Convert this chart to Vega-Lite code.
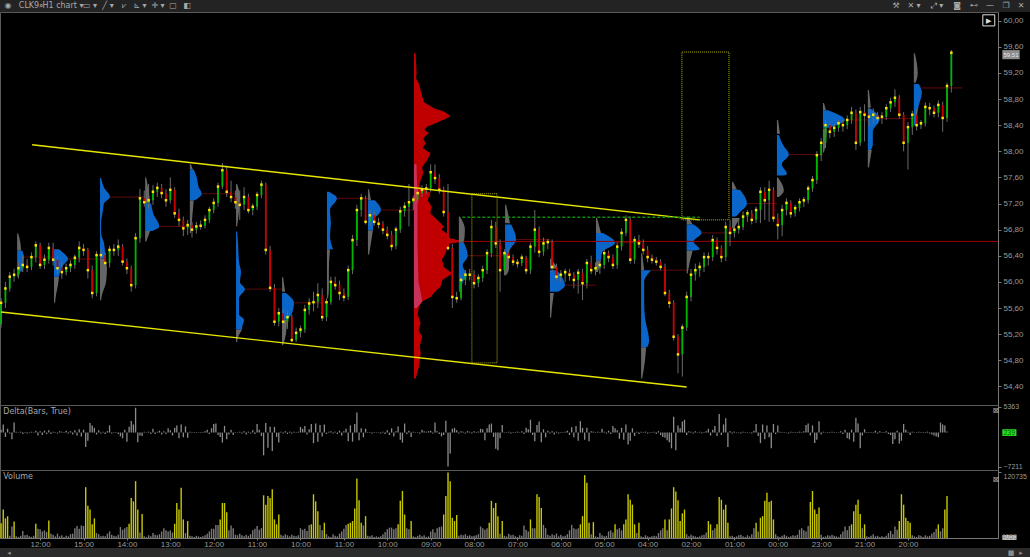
{"$schema":"https://vega.github.io/schema/vega-lite/v6.json","background":"#000","padding":{"left":-3,"top":0,"right":0,"bottom":0},"bounds":"flush","spacing":0,"config":{"font":"Liberation Sans","view":{"stroke":"#5a5a5a","fill":"#000"},"axis":{"domainColor":"#777","tickColor":"#777","labelColor":"#9a9a9a","labelFont":"Liberation Sans","labelFontSize":8,"tickSize":3,"labelPadding":2,"grid":false}},
"datasets":{
"candles":[{"x":0,"o":55.35,"h":55.75,"l":55.3,"c":55.68},{"x":2,"o":55.68,"h":56,"l":55.6,"c":55.9},{"x":4,"o":55.9,"h":56.15,"l":55.85,"c":56.08},{"x":6,"o":56.08,"h":56.2,"l":56,"c":56.11},{"x":8,"o":56.11,"h":56.3,"l":56.05,"c":56.21},{"x":10,"o":56.21,"h":56.4,"l":56.15,"c":56.26},{"x":12,"o":56.26,"h":56.35,"l":56.15,"c":56.23},{"x":14,"o":56.23,"h":56.45,"l":56.18,"c":56.38},{"x":16,"o":56.38,"h":56.62,"l":56.3,"c":56.56},{"x":18,"o":56.56,"h":56.6,"l":56.2,"c":56.26},{"x":20,"o":56.26,"h":56.42,"l":56.2,"c":56.34},{"x":22,"o":56.34,"h":56.6,"l":56.28,"c":56.52},{"x":24,"o":56.52,"h":56.6,"l":56.25,"c":56.34},{"x":26,"o":56.34,"h":56.4,"l":56.12,"c":56.21},{"x":28,"o":56.21,"h":56.3,"l":56.05,"c":56.15},{"x":30,"o":56.15,"h":56.28,"l":56.1,"c":56.21},{"x":32,"o":56.21,"h":56.33,"l":56.15,"c":56.26},{"x":34,"o":56.26,"h":56.42,"l":56.2,"c":56.37},{"x":36,"o":56.37,"h":56.62,"l":56.3,"c":56.52},{"x":38,"o":56.52,"h":56.58,"l":56.4,"c":56.49},{"x":40,"o":56.49,"h":56.52,"l":56.05,"c":56.18},{"x":42,"o":56.18,"h":56.25,"l":55.75,"c":55.83},{"x":44,"o":55.83,"h":56.47,"l":55.78,"c":56.41},{"x":46,"o":56.41,"h":56.5,"l":56.3,"c":56.41},{"x":48,"o":56.41,"h":56.45,"l":56.2,"c":56.29},{"x":50,"o":56.29,"h":56.55,"l":56.22,"c":56.49},{"x":52,"o":56.49,"h":56.58,"l":56.4,"c":56.49},{"x":54,"o":56.49,"h":56.65,"l":56.4,"c":56.54},{"x":56,"o":56.54,"h":56.58,"l":56.25,"c":56.31},{"x":58,"o":56.31,"h":56.36,"l":56.12,"c":56.21},{"x":60,"o":56.21,"h":56.25,"l":55.85,"c":55.95},{"x":62,"o":55.95,"h":56.75,"l":55.9,"c":56.67},{"x":64,"o":56.67,"h":57.42,"l":56.6,"c":57.28},{"x":66,"o":57.28,"h":57.4,"l":57.15,"c":57.22},{"x":68,"o":57.22,"h":57.5,"l":57.12,"c":57.25},{"x":70,"o":57.25,"h":57.48,"l":57.18,"c":57.38},{"x":72,"o":57.38,"h":57.52,"l":57.3,"c":57.44},{"x":74,"o":57.44,"h":57.5,"l":57.28,"c":57.36},{"x":76,"o":57.36,"h":57.42,"l":57.15,"c":57.25},{"x":78,"o":57.25,"h":57.6,"l":57.2,"c":57.41},{"x":80,"o":57.41,"h":57.45,"l":56.98,"c":57.05},{"x":82,"o":57.05,"h":57.12,"l":56.85,"c":56.95},{"x":84,"o":56.95,"h":57,"l":56.7,"c":56.82},{"x":86,"o":56.82,"h":56.95,"l":56.72,"c":56.87},{"x":88,"o":56.87,"h":56.92,"l":56.68,"c":56.8},{"x":90,"o":56.8,"h":56.92,"l":56.74,"c":56.85},{"x":92,"o":56.85,"h":56.94,"l":56.8,"c":56.86},{"x":94,"o":56.86,"h":57.02,"l":56.82,"c":56.95},{"x":96,"o":56.95,"h":57.15,"l":56.9,"c":57.1},{"x":98,"o":57.1,"h":57.28,"l":57.05,"c":57.21},{"x":100,"o":57.21,"h":57.52,"l":57.15,"c":57.46},{"x":102,"o":57.46,"h":57.82,"l":57.42,"c":57.71},{"x":104,"o":57.71,"h":57.78,"l":57.3,"c":57.38},{"x":106,"o":57.38,"h":57.55,"l":57.22,"c":57.3},{"x":108,"o":57.3,"h":57.4,"l":57.12,"c":57.22},{"x":110,"o":57.22,"h":57.4,"l":56.95,"c":57.18},{"x":112,"o":57.18,"h":57.45,"l":57.1,"c":57.3},{"x":114,"o":57.3,"h":57.35,"l":57.05,"c":57.1},{"x":116,"o":57.1,"h":57.2,"l":57.02,"c":57.15},{"x":118,"o":57.15,"h":57.38,"l":57.1,"c":57.33},{"x":120,"o":57.33,"h":57.55,"l":57.28,"c":57.49},{"x":122,"o":57.49,"h":57.52,"l":56.42,"c":56.49},{"x":124,"o":56.49,"h":56.55,"l":55.85,"c":55.91},{"x":126,"o":55.91,"h":55.97,"l":55.33,"c":55.39},{"x":128,"o":55.39,"h":55.6,"l":55.32,"c":55.52},{"x":130,"o":55.52,"h":55.58,"l":55.12,"c":55.39},{"x":132,"o":55.39,"h":55.55,"l":55.28,"c":55.46},{"x":134,"o":55.46,"h":55.5,"l":55.08,"c":55.11},{"x":136,"o":55.11,"h":55.3,"l":55.08,"c":55.22},{"x":138,"o":55.22,"h":55.33,"l":55.15,"c":55.27},{"x":140,"o":55.27,"h":55.65,"l":55.22,"c":55.57},{"x":142,"o":55.57,"h":55.75,"l":55.5,"c":55.67},{"x":144,"o":55.67,"h":55.85,"l":55.55,"c":55.69},{"x":146,"o":55.69,"h":55.98,"l":55.6,"c":55.8},{"x":148,"o":55.8,"h":55.9,"l":55.4,"c":55.46},{"x":150,"o":55.46,"h":55.75,"l":55.4,"c":55.69},{"x":152,"o":55.69,"h":56.08,"l":55.65,"c":56},{"x":154,"o":56,"h":56.08,"l":55.88,"c":55.95},{"x":156,"o":55.95,"h":56.02,"l":55.72,"c":55.83},{"x":158,"o":55.83,"h":55.9,"l":55.7,"c":55.77},{"x":160,"o":55.77,"h":56.25,"l":55.72,"c":56.18},{"x":162,"o":56.18,"h":56.72,"l":56.12,"c":56.64},{"x":164,"o":56.64,"h":57.18,"l":56.55,"c":57.1},{"x":166,"o":57.1,"h":57.35,"l":57,"c":57.28},{"x":168,"o":57.28,"h":57.32,"l":56.88,"c":56.92},{"x":170,"o":56.92,"h":57.1,"l":56.85,"c":57.02},{"x":172,"o":57.02,"h":57.08,"l":56.86,"c":56.92},{"x":174,"o":56.92,"h":56.98,"l":56.82,"c":56.89},{"x":176,"o":56.89,"h":56.93,"l":56.73,"c":56.8},{"x":178,"o":56.8,"h":56.85,"l":56.65,"c":56.72},{"x":180,"o":56.72,"h":56.78,"l":56.48,"c":56.55},{"x":182,"o":56.55,"h":56.85,"l":56.5,"c":56.8},{"x":184,"o":56.8,"h":57.15,"l":56.75,"c":57.08},{"x":186,"o":57.08,"h":57.22,"l":57,"c":57.15},{"x":188,"o":57.15,"h":57.5,"l":56.85,"c":57.22},{"x":190,"o":57.22,"h":57.32,"l":57.1,"c":57.26},{"x":192,"o":57.26,"h":57.42,"l":57.22,"c":57.36},{"x":194,"o":57.36,"h":57.48,"l":57.3,"c":57.41},{"x":196,"o":57.41,"h":57.5,"l":57.35,"c":57.43},{"x":198,"o":57.43,"h":57.8,"l":57.38,"c":57.68},{"x":200,"o":57.68,"h":57.8,"l":57.5,"c":57.59},{"x":202,"o":57.59,"h":57.65,"l":57.35,"c":57.41},{"x":204,"o":57.41,"h":57.46,"l":57,"c":57.07},{"x":206,"o":57.07,"h":57.5,"l":56.48,"c":56.52},{"x":208,"o":56.52,"h":56.58,"l":55.6,"c":55.77},{"x":210,"o":55.77,"h":55.85,"l":55.68,"c":55.75},{"x":212,"o":55.75,"h":56.1,"l":55.72,"c":56.03},{"x":214,"o":56.03,"h":56.18,"l":55.95,"c":56.11},{"x":216,"o":56.11,"h":56.2,"l":56.02,"c":56.11},{"x":218,"o":56.11,"h":56.18,"l":55.9,"c":55.98},{"x":220,"o":55.98,"h":56.12,"l":55.92,"c":56.06},{"x":222,"o":56.06,"h":56.25,"l":56,"c":56.18},{"x":224,"o":56.18,"h":56.5,"l":56.12,"c":56.44},{"x":226,"o":56.44,"h":56.95,"l":56.38,"c":56.84},{"x":228,"o":56.84,"h":56.92,"l":56.52,"c":56.59},{"x":230,"o":56.59,"h":56.65,"l":55.85,"c":56.18},{"x":232,"o":56.18,"h":56.5,"l":56.1,"c":56.44},{"x":234,"o":56.44,"h":56.5,"l":56.3,"c":56.38},{"x":236,"o":56.38,"h":56.42,"l":56.25,"c":56.31},{"x":238,"o":56.31,"h":56.35,"l":56.22,"c":56.29},{"x":240,"o":56.29,"h":56.42,"l":56.24,"c":56.37},{"x":242,"o":56.37,"h":56.4,"l":56.12,"c":56.18},{"x":244,"o":56.18,"h":56.6,"l":56.12,"c":56.54},{"x":246,"o":56.54,"h":57.1,"l":56.45,"c":56.8},{"x":248,"o":56.8,"h":56.85,"l":56.38,"c":56.46},{"x":250,"o":56.46,"h":56.68,"l":56.4,"c":56.59},{"x":252,"o":56.59,"h":56.66,"l":56.5,"c":56.61},{"x":254,"o":56.61,"h":56.65,"l":56.15,"c":56.23},{"x":256,"o":56.23,"h":56.28,"l":56.02,"c":56.08},{"x":258,"o":56.08,"h":56.18,"l":56,"c":56.11},{"x":260,"o":56.11,"h":56.2,"l":56,"c":56.15},{"x":262,"o":56.15,"h":56.2,"l":56.02,"c":56.11},{"x":264,"o":56.11,"h":56.15,"l":55.9,"c":56.03},{"x":266,"o":56.03,"h":56.2,"l":55.82,"c":56.14},{"x":268,"o":56.14,"h":56.2,"l":55.72,"c":55.98},{"x":270,"o":55.98,"h":56.35,"l":55.9,"c":56.29},{"x":272,"o":56.29,"h":56.4,"l":56.12,"c":56.18},{"x":274,"o":56.18,"h":56.3,"l":56.1,"c":56.21},{"x":276,"o":56.21,"h":56.32,"l":56.12,"c":56.26},{"x":278,"o":56.26,"h":56.5,"l":56.2,"c":56.44},{"x":280,"o":56.44,"h":56.48,"l":56.3,"c":56.38},{"x":282,"o":56.38,"h":56.42,"l":56.2,"c":56.26},{"x":284,"o":56.26,"h":56.6,"l":56.2,"c":56.54},{"x":286,"o":56.54,"h":56.82,"l":56.48,"c":56.75},{"x":288,"o":56.75,"h":57.02,"l":56.7,"c":56.95},{"x":290,"o":56.95,"h":57,"l":56.28,"c":56.34},{"x":292,"o":56.34,"h":56.7,"l":56.28,"c":56.64},{"x":294,"o":56.64,"h":56.72,"l":56.52,"c":56.59},{"x":296,"o":56.59,"h":56.65,"l":56.42,"c":56.49},{"x":298,"o":56.49,"h":56.55,"l":56.3,"c":56.38},{"x":300,"o":56.38,"h":56.42,"l":56.28,"c":56.34},{"x":302,"o":56.34,"h":56.38,"l":56.25,"c":56.31},{"x":304,"o":56.31,"h":56.35,"l":56.18,"c":56.23},{"x":306,"o":56.23,"h":56.28,"l":55.78,"c":55.83},{"x":308,"o":55.83,"h":55.88,"l":55.6,"c":55.68},{"x":310,"o":55.68,"h":55.72,"l":55.1,"c":55.16},{"x":312,"o":55.16,"h":55.2,"l":54.6,"c":54.89},{"x":314,"o":54.89,"h":55.35,"l":54.55,"c":55.3},{"x":316,"o":55.3,"h":55.85,"l":55.25,"c":55.77},{"x":318,"o":55.77,"h":56.2,"l":55.7,"c":56.11},{"x":320,"o":56.11,"h":56.28,"l":56.02,"c":56.18},{"x":322,"o":56.18,"h":56.3,"l":56.08,"c":56.23},{"x":324,"o":56.23,"h":56.45,"l":56.15,"c":56.38},{"x":326,"o":56.38,"h":56.45,"l":56.25,"c":56.38},{"x":328,"o":56.38,"h":56.72,"l":56.32,"c":56.64},{"x":330,"o":56.64,"h":56.68,"l":56.42,"c":56.52},{"x":332,"o":56.52,"h":56.56,"l":56.3,"c":56.38},{"x":334,"o":56.38,"h":56.92,"l":56.32,"c":56.84},{"x":336,"o":56.84,"h":56.95,"l":56.55,"c":56.75},{"x":338,"o":56.75,"h":56.9,"l":56.68,"c":56.8},{"x":340,"o":56.8,"h":56.95,"l":56.74,"c":56.84},{"x":342,"o":56.84,"h":57.08,"l":56.8,"c":57},{"x":344,"o":57,"h":57.1,"l":56.92,"c":57.05},{"x":346,"o":57.05,"h":57.1,"l":56.88,"c":56.95},{"x":348,"o":56.95,"h":57.15,"l":56.9,"c":57.1},{"x":350,"o":57.1,"h":57.45,"l":56.9,"c":57.38},{"x":352,"o":57.38,"h":57.45,"l":56.95,"c":57.25},{"x":354,"o":57.25,"h":57.55,"l":56.92,"c":57.41},{"x":356,"o":57.41,"h":57.45,"l":56.92,"c":56.98},{"x":358,"o":56.98,"h":57.05,"l":56.65,"c":56.87},{"x":360,"o":56.87,"h":57.18,"l":56.7,"c":57.1},{"x":362,"o":57.1,"h":57.28,"l":57.02,"c":57.21},{"x":364,"o":57.21,"h":57.25,"l":56.98,"c":57.05},{"x":366,"o":57.05,"h":57.18,"l":57,"c":57.13},{"x":368,"o":57.13,"h":57.28,"l":57.08,"c":57.22},{"x":370,"o":57.22,"h":57.3,"l":57.15,"c":57.25},{"x":372,"o":57.25,"h":57.48,"l":57.2,"c":57.43},{"x":374,"o":57.43,"h":57.62,"l":57.38,"c":57.56},{"x":376,"o":57.56,"h":58,"l":57.5,"c":57.94},{"x":378,"o":57.94,"h":58.2,"l":57.85,"c":58.13},{"x":380,"o":58.13,"h":58.48,"l":58.05,"c":58.4},{"x":382,"o":58.4,"h":58.44,"l":58.2,"c":58.3},{"x":384,"o":58.3,"h":58.42,"l":58.22,"c":58.36},{"x":386,"o":58.36,"h":58.48,"l":58.3,"c":58.43},{"x":388,"o":58.43,"h":58.48,"l":58.3,"c":58.4},{"x":390,"o":58.4,"h":58.55,"l":58.34,"c":58.48},{"x":392,"o":58.48,"h":58.68,"l":58.42,"c":58.59},{"x":394,"o":58.59,"h":58.64,"l":58.02,"c":58.13},{"x":396,"o":58.13,"h":58.68,"l":58.08,"c":58.6},{"x":398,"o":58.6,"h":58.72,"l":58.15,"c":58.56},{"x":400,"o":58.56,"h":58.7,"l":58.38,"c":58.53},{"x":402,"o":58.53,"h":58.66,"l":58.42,"c":58.56},{"x":404,"o":58.56,"h":58.6,"l":58.42,"c":58.51},{"x":406,"o":58.51,"h":58.6,"l":58.42,"c":58.53},{"x":408,"o":58.53,"h":58.72,"l":58.48,"c":58.66},{"x":410,"o":58.66,"h":58.82,"l":58.6,"c":58.75},{"x":412,"o":58.75,"h":58.95,"l":58.68,"c":58.82},{"x":414,"o":58.82,"h":58.86,"l":58.5,"c":58.56},{"x":416,"o":58.56,"h":58.6,"l":58,"c":58.13},{"x":418,"o":58.13,"h":58.45,"l":57.72,"c":58.37},{"x":420,"o":58.37,"h":58.62,"l":58.25,"c":58.56},{"x":422,"o":58.56,"h":58.65,"l":58.32,"c":58.4},{"x":424,"o":58.4,"h":58.48,"l":58.34,"c":58.43},{"x":426,"o":58.43,"h":58.75,"l":58.38,"c":58.68},{"x":428,"o":58.68,"h":58.74,"l":58.55,"c":58.66},{"x":430,"o":58.66,"h":58.7,"l":58.52,"c":58.59},{"x":432,"o":58.59,"h":58.78,"l":58.52,"c":58.71},{"x":434,"o":58.71,"h":58.76,"l":58.3,"c":58.51},{"x":436,"o":58.51,"h":59.05,"l":58.45,"c":59},{"x":438,"o":59,"h":59.55,"l":58.9,"c":59.51}],
"bars":[{"i":0,"v":27,"d":600},{"i":1,"v":52,"d":1700},{"i":2,"v":36,"d":-900},{"i":3,"v":40,"d":800},{"i":4,"v":4,"d":-200},{"i":5,"v":21,"d":-1400},{"i":6,"v":30,"d":2100},{"i":7,"v":3,"d":200},{"i":8,"v":2,"d":-100},{"i":9,"v":4,"d":200},{"i":10,"v":13,"d":-300},{"i":11,"v":5,"d":100},{"i":12,"v":6,"d":-200},{"i":13,"v":3,"d":100},{"i":14,"v":2,"d":200},{"i":15,"v":4,"d":-100},{"i":16,"v":26,"d":400},{"i":17,"v":17,"d":-600},{"i":18,"v":16,"d":300},{"i":19,"v":12,"d":-500},{"i":20,"v":14,"d":400},{"i":21,"v":11,"d":-300},{"i":22,"v":32,"d":500},{"i":23,"v":8,"d":-300},{"i":24,"v":6,"d":200},{"i":25,"v":3,"d":100},{"i":26,"v":8,"d":-200},{"i":27,"v":3,"d":300},{"i":28,"v":5,"d":200},{"i":29,"v":2,"d":-100},{"i":30,"v":4,"d":400},{"i":31,"v":3,"d":-200},{"i":32,"v":7,"d":300},{"i":33,"v":8,"d":-400},{"i":34,"v":18,"d":500},{"i":35,"v":22,"d":-600},{"i":36,"v":17,"d":700},{"i":37,"v":23,"d":-800},{"i":38,"v":22,"d":600},{"i":39,"v":93,"d":-3000},{"i":40,"v":59,"d":-1700},{"i":41,"v":52,"d":2000},{"i":42,"v":25,"d":1500},{"i":43,"v":36,"d":1000},{"i":44,"v":9,"d":-400},{"i":45,"v":7,"d":500},{"i":46,"v":3,"d":-200},{"i":47,"v":4,"d":200},{"i":48,"v":3,"d":-300},{"i":49,"v":8,"d":300},{"i":50,"v":12,"d":1500},{"i":51,"v":6,"d":-200},{"i":52,"v":4,"d":100},{"i":53,"v":3,"d":-100},{"i":54,"v":6,"d":-300},{"i":55,"v":20,"d":-800},{"i":56,"v":15,"d":-1200},{"i":57,"v":18,"d":600},{"i":58,"v":20,"d":-1900},{"i":59,"v":26,"d":1200},{"i":60,"v":73,"d":2450},{"i":61,"v":67,"d":1700},{"i":62,"v":104,"d":5200},{"i":63,"v":52,"d":-2000},{"i":64,"v":10,"d":-600},{"i":65,"v":44,"d":-700},{"i":66,"v":3,"d":200},{"i":67,"v":2,"d":-100},{"i":68,"v":5,"d":200},{"i":69,"v":3,"d":-300},{"i":70,"v":9,"d":800},{"i":71,"v":6,"d":-300},{"i":72,"v":5,"d":200},{"i":73,"v":7,"d":400},{"i":74,"v":12,"d":-400},{"i":75,"v":18,"d":300},{"i":76,"v":14,"d":-300},{"i":77,"v":12,"d":900},{"i":78,"v":14,"d":500},{"i":79,"v":10,"d":-600},{"i":80,"v":26,"d":1000},{"i":81,"v":64,"d":1500},{"i":82,"v":52,"d":-1200},{"i":83,"v":92,"d":1700},{"i":84,"v":34,"d":-1000},{"i":85,"v":9,"d":1300},{"i":86,"v":31,"d":-1100},{"i":87,"v":4,"d":200},{"i":88,"v":3,"d":-100},{"i":89,"v":2,"d":100},{"i":90,"v":4,"d":-100},{"i":91,"v":3,"d":100},{"i":92,"v":2,"d":-100},{"i":93,"v":3,"d":100},{"i":94,"v":5,"d":300},{"i":95,"v":8,"d":600},{"i":96,"v":12,"d":-300},{"i":97,"v":17,"d":900},{"i":98,"v":17,"d":1800},{"i":99,"v":24,"d":1900},{"i":100,"v":24,"d":-500},{"i":101,"v":34,"d":-900},{"i":102,"v":64,"d":-2100},{"i":103,"v":64,"d":1400},{"i":104,"v":47,"d":-1400},{"i":105,"v":14,"d":-400},{"i":106,"v":23,"d":600},{"i":107,"v":18,"d":-500},{"i":108,"v":6,"d":100},{"i":109,"v":5,"d":-100},{"i":110,"v":8,"d":200},{"i":111,"v":5,"d":-200},{"i":112,"v":3,"d":300},{"i":113,"v":6,"d":-400},{"i":114,"v":4,"d":200},{"i":115,"v":7,"d":-200},{"i":116,"v":14,"d":500},{"i":117,"v":17,"d":-300},{"i":118,"v":22,"d":1800},{"i":119,"v":15,"d":600},{"i":120,"v":18,"d":-700},{"i":121,"v":78,"d":-4760},{"i":122,"v":61,"d":2000},{"i":123,"v":77,"d":-3200},{"i":124,"v":73,"d":1200},{"i":125,"v":89,"d":-3850},{"i":126,"v":34,"d":1200},{"i":127,"v":25,"d":-900},{"i":128,"v":43,"d":-2100},{"i":129,"v":6,"d":200},{"i":130,"v":4,"d":-200},{"i":131,"v":7,"d":300},{"i":132,"v":5,"d":-300},{"i":133,"v":3,"d":200},{"i":134,"v":6,"d":-200},{"i":135,"v":4,"d":200},{"i":136,"v":3,"d":-100},{"i":137,"v":5,"d":200},{"i":138,"v":18,"d":1200},{"i":139,"v":15,"d":800},{"i":140,"v":17,"d":1400},{"i":141,"v":13,"d":-400},{"i":142,"v":24,"d":700},{"i":143,"v":25,"d":1800},{"i":144,"v":80,"d":-2200},{"i":145,"v":67,"d":1900},{"i":146,"v":49,"d":-1900},{"i":147,"v":24,"d":1600},{"i":148,"v":14,"d":-800},{"i":149,"v":28,"d":1700},{"i":150,"v":7,"d":-300},{"i":151,"v":3,"d":200},{"i":152,"v":2,"d":300},{"i":153,"v":7,"d":-200},{"i":154,"v":4,"d":200},{"i":155,"v":3,"d":-300},{"i":156,"v":8,"d":400},{"i":157,"v":12,"d":-600},{"i":158,"v":17,"d":300},{"i":159,"v":24,"d":800},{"i":160,"v":26,"d":-1800},{"i":161,"v":28,"d":1500},{"i":162,"v":31,"d":-1900},{"i":163,"v":54,"d":1800},{"i":164,"v":109,"d":4200},{"i":165,"v":69,"d":-1600},{"i":166,"v":28,"d":900},{"i":167,"v":23,"d":-1000},{"i":168,"v":40,"d":800},{"i":169,"v":4,"d":-100},{"i":170,"v":3,"d":100},{"i":171,"v":5,"d":-200},{"i":172,"v":2,"d":100},{"i":173,"v":3,"d":-100},{"i":174,"v":2,"d":100},{"i":175,"v":3,"d":-200},{"i":176,"v":7,"d":200},{"i":177,"v":11,"d":-300},{"i":178,"v":16,"d":500},{"i":179,"v":19,"d":-500},{"i":180,"v":19,"d":900},{"i":181,"v":16,"d":-800},{"i":182,"v":18,"d":300},{"i":183,"v":25,"d":1300},{"i":184,"v":68,"d":-1500},{"i":185,"v":86,"d":-2100},{"i":186,"v":43,"d":1900},{"i":187,"v":18,"d":-300},{"i":188,"v":16,"d":400},{"i":189,"v":31,"d":-900},{"i":190,"v":3,"d":200},{"i":191,"v":2,"d":-100},{"i":192,"v":4,"d":100},{"i":193,"v":6,"d":-200},{"i":194,"v":3,"d":600},{"i":195,"v":5,"d":300},{"i":196,"v":2,"d":200},{"i":197,"v":3,"d":300},{"i":198,"v":12,"d":400},{"i":199,"v":16,"d":-200},{"i":200,"v":10,"d":2100},{"i":201,"v":18,"d":300},{"i":202,"v":20,"d":-300},{"i":203,"v":21,"d":-800},{"i":204,"v":43,"d":-500},{"i":205,"v":77,"d":2500},{"i":206,"v":120,"d":-7100},{"i":207,"v":104,"d":-4400},{"i":208,"v":37,"d":800},{"i":209,"v":31,"d":1000},{"i":210,"v":42,"d":500},{"i":211,"v":4,"d":-200},{"i":212,"v":6,"d":300},{"i":213,"v":5,"d":200},{"i":214,"v":7,"d":-200},{"i":215,"v":4,"d":300},{"i":216,"v":5,"d":200},{"i":217,"v":3,"d":-200},{"i":218,"v":4,"d":300},{"i":219,"v":5,"d":-100},{"i":220,"v":7,"d":200},{"i":221,"v":21,"d":800},{"i":222,"v":18,"d":700},{"i":223,"v":15,"d":-1600},{"i":224,"v":18,"d":900},{"i":225,"v":28,"d":1700},{"i":226,"v":68,"d":1900},{"i":227,"v":55,"d":-900},{"i":228,"v":64,"d":-3400},{"i":229,"v":40,"d":-3700},{"i":230,"v":8,"d":-1200},{"i":231,"v":31,"d":1600},{"i":232,"v":4,"d":-100},{"i":233,"v":3,"d":100},{"i":234,"v":8,"d":200},{"i":235,"v":5,"d":-200},{"i":236,"v":6,"d":100},{"i":237,"v":3,"d":-100},{"i":238,"v":2,"d":200},{"i":239,"v":5,"d":-100},{"i":240,"v":4,"d":300},{"i":241,"v":23,"d":-300},{"i":242,"v":15,"d":1000},{"i":243,"v":12,"d":700},{"i":244,"v":34,"d":2700},{"i":245,"v":18,"d":-500},{"i":246,"v":18,"d":-1800},{"i":247,"v":80,"d":1600},{"i":248,"v":75,"d":2300},{"i":249,"v":55,"d":-2000},{"i":250,"v":24,"d":700},{"i":251,"v":18,"d":-1000},{"i":252,"v":6,"d":400},{"i":253,"v":4,"d":-200},{"i":254,"v":7,"d":300},{"i":255,"v":5,"d":-400},{"i":256,"v":8,"d":200},{"i":257,"v":3,"d":-200},{"i":258,"v":6,"d":100},{"i":259,"v":3,"d":-100},{"i":260,"v":4,"d":200},{"i":261,"v":7,"d":400},{"i":262,"v":14,"d":-500},{"i":263,"v":24,"d":1100},{"i":264,"v":18,"d":-1000},{"i":265,"v":16,"d":1400},{"i":266,"v":18,"d":-1700},{"i":267,"v":25,"d":2400},{"i":268,"v":40,"d":1000},{"i":269,"v":115,"d":-1500},{"i":270,"v":101,"d":1000},{"i":271,"v":28,"d":-1800},{"i":272,"v":7,"d":300},{"i":273,"v":29,"d":200},{"i":274,"v":3,"d":-100},{"i":275,"v":2,"d":200},{"i":276,"v":9,"d":-100},{"i":277,"v":5,"d":800},{"i":278,"v":3,"d":200},{"i":279,"v":4,"d":-200},{"i":280,"v":12,"d":400},{"i":281,"v":14,"d":-300},{"i":282,"v":10,"d":1400},{"i":283,"v":25,"d":900},{"i":284,"v":16,"d":500},{"i":285,"v":18,"d":-1300},{"i":286,"v":14,"d":1000},{"i":287,"v":25,"d":-1500},{"i":288,"v":34,"d":1700},{"i":289,"v":80,"d":-2500},{"i":290,"v":70,"d":-1700},{"i":291,"v":61,"d":900},{"i":292,"v":25,"d":-700},{"i":293,"v":9,"d":200},{"i":294,"v":28,"d":-300},{"i":295,"v":3,"d":200},{"i":296,"v":2,"d":-100},{"i":297,"v":5,"d":200},{"i":298,"v":3,"d":-200},{"i":299,"v":2,"d":100},{"i":300,"v":3,"d":-100},{"i":301,"v":4,"d":200},{"i":302,"v":3,"d":-300},{"i":303,"v":9,"d":300},{"i":304,"v":14,"d":-500},{"i":305,"v":18,"d":-900},{"i":306,"v":34,"d":-1100},{"i":307,"v":14,"d":-1600},{"i":308,"v":34,"d":-2000},{"i":309,"v":54,"d":-3300},{"i":310,"v":93,"d":3300},{"i":311,"v":85,"d":-3700},{"i":312,"v":69,"d":1500},{"i":313,"v":31,"d":900},{"i":314,"v":45,"d":2300},{"i":315,"v":52,"d":2700},{"i":316,"v":7,"d":-500},{"i":317,"v":3,"d":300},{"i":318,"v":6,"d":200},{"i":319,"v":4,"d":-200},{"i":320,"v":3,"d":300},{"i":321,"v":2,"d":-100},{"i":322,"v":3,"d":200},{"i":323,"v":5,"d":-200},{"i":324,"v":6,"d":100},{"i":325,"v":10,"d":300},{"i":326,"v":31,"d":800},{"i":327,"v":25,"d":-600},{"i":328,"v":14,"d":600},{"i":329,"v":18,"d":1400},{"i":330,"v":25,"d":-700},{"i":331,"v":75,"d":3900},{"i":332,"v":70,"d":-500},{"i":333,"v":52,"d":1700},{"i":334,"v":61,"d":3000},{"i":335,"v":28,"d":-3000},{"i":336,"v":3,"d":300},{"i":337,"v":4,"d":-200},{"i":338,"v":2,"d":200},{"i":339,"v":3,"d":-100},{"i":340,"v":5,"d":100},{"i":341,"v":6,"d":-200},{"i":342,"v":3,"d":200},{"i":343,"v":2,"d":-100},{"i":344,"v":5,"d":100},{"i":345,"v":3,"d":-100},{"i":346,"v":7,"d":-200},{"i":347,"v":18,"d":400},{"i":348,"v":28,"d":1800},{"i":349,"v":12,"d":-700},{"i":350,"v":37,"d":-2200},{"i":351,"v":40,"d":1700},{"i":352,"v":68,"d":-1400},{"i":353,"v":83,"d":1500},{"i":354,"v":66,"d":-1000},{"i":355,"v":68,"d":-3300},{"i":356,"v":34,"d":1800},{"i":357,"v":7,"d":-300},{"i":358,"v":3,"d":1500},{"i":359,"v":2,"d":200},{"i":360,"v":4,"d":-100},{"i":361,"v":6,"d":100},{"i":362,"v":4,"d":-100},{"i":363,"v":2,"d":-200},{"i":364,"v":3,"d":200},{"i":365,"v":5,"d":-100},{"i":366,"v":4,"d":100},{"i":367,"v":6,"d":-100},{"i":368,"v":15,"d":200},{"i":369,"v":18,"d":-100},{"i":370,"v":14,"d":300},{"i":371,"v":12,"d":1600},{"i":372,"v":22,"d":1900},{"i":373,"v":66,"d":-600},{"i":374,"v":86,"d":1500},{"i":375,"v":52,"d":-2200},{"i":376,"v":44,"d":-1500},{"i":377,"v":56,"d":2400},{"i":378,"v":6,"d":-400},{"i":379,"v":2,"d":200},{"i":380,"v":3,"d":-100},{"i":381,"v":5,"d":100},{"i":382,"v":4,"d":-100},{"i":383,"v":6,"d":200},{"i":384,"v":4,"d":-100},{"i":385,"v":3,"d":100},{"i":386,"v":2,"d":-100},{"i":387,"v":7,"d":300},{"i":388,"v":12,"d":-300},{"i":389,"v":21,"d":600},{"i":390,"v":14,"d":-1200},{"i":391,"v":22,"d":-1400},{"i":392,"v":25,"d":600},{"i":393,"v":49,"d":-1900},{"i":394,"v":61,"d":3100},{"i":395,"v":70,"d":1900},{"i":396,"v":44,"d":-3300},{"i":397,"v":18,"d":-600},{"i":398,"v":25,"d":700},{"i":399,"v":3,"d":-100},{"i":400,"v":2,"d":100},{"i":401,"v":4,"d":-100},{"i":402,"v":7,"d":100},{"i":403,"v":3,"d":400},{"i":404,"v":4,"d":-200},{"i":405,"v":2,"d":300},{"i":406,"v":3,"d":-100},{"i":407,"v":2,"d":100},{"i":408,"v":4,"d":300},{"i":409,"v":9,"d":-300},{"i":410,"v":13,"d":-500},{"i":411,"v":7,"d":-2400},{"i":412,"v":21,"d":-1400},{"i":413,"v":15,"d":400},{"i":414,"v":31,"d":-2300},{"i":415,"v":80,"d":-1700},{"i":416,"v":61,"d":1800},{"i":417,"v":37,"d":600},{"i":418,"v":31,"d":200},{"i":419,"v":28,"d":-500},{"i":420,"v":5,"d":200},{"i":421,"v":3,"d":-100},{"i":422,"v":2,"d":100},{"i":423,"v":5,"d":200},{"i":424,"v":4,"d":-100},{"i":425,"v":2,"d":100},{"i":426,"v":5,"d":-100},{"i":427,"v":3,"d":200},{"i":428,"v":4,"d":-200},{"i":429,"v":8,"d":-400},{"i":430,"v":11,"d":-600},{"i":431,"v":17,"d":-800},{"i":432,"v":25,"d":-1000},{"i":433,"v":12,"d":2100},{"i":434,"v":18,"d":1700},{"i":435,"v":52,"d":1500},{"i":436,"v":77,"d":239}],
"grey":[{"k":"1a","x":7.4,"w":7.9,"y":56.74},{"k":"1a","x":7.4,"w":8.8,"y":56.62},{"k":"1a","x":7.4,"w":9.2,"y":56.48},{"k":"1c","x":7.4,"w":8.8,"y":56.16},{"k":"1c","x":7.4,"w":7.9,"y":56.08},{"k":"2c","x":24.4,"w":26.7,"y":56.08},{"k":"2c","x":24.4,"w":26.2,"y":55.95},{"k":"2c","x":24.4,"w":25.3,"y":55.8},{"k":"2c","x":24.4,"w":24.9,"y":55.68},{"k":"3c","x":45.6,"w":47.9,"y":56.36},{"k":"3c","x":45.6,"w":48.8,"y":56.2},{"k":"3c","x":45.6,"w":48.4,"y":56},{"k":"3c","x":45.6,"w":46.5,"y":55.8},{"k":"3c","x":45.6,"w":46.1,"y":55.72},{"k":"4a","x":66.4,"w":66.9,"y":57.6},{"k":"4a","x":66.4,"w":68.2,"y":57.35},{"k":"4a","x":66.4,"w":68.7,"y":57.2},{"k":"4c","x":66.4,"w":68.7,"y":56.78},{"k":"4c","x":66.4,"w":66.9,"y":56.62},{"k":"5a","x":87,"w":87.5,"y":57.8},{"k":"5a","x":87,"w":88.4,"y":57.72},{"k":"5c","x":87,"w":88.8,"y":57.25},{"k":"5c","x":87,"w":88.4,"y":57.1},{"k":"5c","x":87,"w":87.9,"y":56.9},{"k":"5c","x":87,"w":87.5,"y":56.75},{"k":"6a","x":108.3,"w":108.8,"y":57.5},{"k":"6a","x":108.3,"w":110.1,"y":57.3},{"k":"6a","x":108.3,"w":109.7,"y":57.1},{"k":"6a","x":108.3,"w":108.8,"y":56.85},{"k":"6c","x":108.3,"w":111.1,"y":55.27},{"k":"6c","x":108.3,"w":109.2,"y":55.15},{"k":"6c","x":108.3,"w":108.8,"y":55.08},{"k":"7a","x":129.5,"w":130,"y":56.07},{"k":"7a","x":129.5,"w":130.9,"y":55.85},{"k":"7c","x":129.5,"w":131.8,"y":55.42},{"k":"7c","x":129.5,"w":131.3,"y":55.2},{"k":"7c","x":129.5,"w":130,"y":55.03},{"k":"8c","x":150.2,"w":151.6,"y":56.5},{"k":"8c","x":150.2,"w":151.1,"y":56.2},{"k":"8c","x":150.2,"w":151.1,"y":55.9},{"k":"8c","x":150.2,"w":150.7,"y":55.75},{"k":"9a","x":169.1,"w":169.6,"y":57.42},{"k":"9a","x":169.1,"w":170.5,"y":57.25},{"k":"9c","x":169.1,"w":171.4,"y":56.79},{"k":"9c","x":169.1,"w":170.5,"y":56.6},{"k":"9c","x":169.1,"w":169.6,"y":56.42},{"k":"11a","x":211,"w":211.5,"y":57},{"k":"11a","x":211,"w":213.8,"y":56.8},{"k":"11a","x":211,"w":213.3,"y":56.6},{"k":"12a","x":232.3,"w":232.8,"y":57.18},{"k":"12a","x":232.3,"w":234.6,"y":56.9},{"k":"12c","x":232.3,"w":234.1,"y":56.44},{"k":"12c","x":232.3,"w":234.1,"y":56.2},{"k":"12c","x":232.3,"w":232.8,"y":56.1},{"k":"13a","x":253,"w":253.5,"y":56.36},{"k":"13a","x":253,"w":256.7,"y":56.2},{"k":"13c","x":253,"w":254.8,"y":55.83},{"k":"13c","x":253,"w":253.9,"y":55.6},{"k":"13c","x":253,"w":253.5,"y":55.45},{"k":"14a","x":274.2,"w":274.7,"y":56.98},{"k":"14a","x":274.2,"w":276.5,"y":56.75},{"k":"14c","x":274.2,"w":276.5,"y":56.33},{"k":"14c","x":274.2,"w":275.1,"y":56.15},{"k":"15a","x":295,"w":295.5,"y":56.44},{"k":"15a","x":295,"w":296.4,"y":56.18},{"k":"15c","x":295,"w":297.3,"y":55},{"k":"15c","x":295,"w":296.8,"y":54.8},{"k":"15c","x":295,"w":295.5,"y":54.52},{"k":"16a","x":316,"w":316.5,"y":57},{"k":"16a","x":316,"w":318.8,"y":56.88},{"k":"16c","x":316,"w":318.8,"y":56.48},{"k":"16c","x":316,"w":317.4,"y":56.3},{"k":"16c","x":316,"w":316.5,"y":56.13},{"k":"17a","x":336.9,"w":337.4,"y":57.53},{"k":"17a","x":336.9,"w":339.2,"y":57.41},{"k":"17c","x":336.9,"w":340.6,"y":56.98},{"k":"17c","x":336.9,"w":337.8,"y":56.82},{"k":"18a","x":357.6,"w":358.1,"y":58.48},{"k":"18a","x":357.6,"w":359,"y":58.27},{"k":"18c","x":357.6,"w":358.1,"y":57.6},{"k":"18c","x":357.6,"w":360.8,"y":57.4},{"k":"18c","x":357.6,"w":358.5,"y":57.3},{"k":"19a","x":378.8,"w":379.3,"y":58.74},{"k":"19a","x":378.8,"w":380.2,"y":58.63},{"k":"19c","x":378.8,"w":380.6,"y":58.35},{"k":"19c","x":378.8,"w":380.2,"y":58.15},{"k":"19c","x":378.8,"w":379.3,"y":57.98},{"k":"20a","x":399.5,"w":400,"y":58.94},{"k":"20a","x":399.5,"w":400.9,"y":58.67},{"k":"20c","x":399.5,"w":401.3,"y":58.02},{"k":"20c","x":399.5,"w":400,"y":57.75},{"k":"21a","x":420.7,"w":421.2,"y":59.5},{"k":"21a","x":420.7,"w":422.5,"y":59.2},{"k":"21a","x":420.7,"w":421.6,"y":59.05}],
"blue":[{"k":1,"x":7.4,"w":9.7,"y":56.48},{"k":1,"x":7.4,"w":10.6,"y":56.38},{"k":1,"x":7.4,"w":10.2,"y":56.25},{"k":1,"x":7.4,"w":9.7,"y":56.16},{"k":2,"x":24.4,"w":26.7,"y":56.5},{"k":2,"x":24.4,"w":28.5,"y":56.45},{"k":2,"x":24.4,"w":30.9,"y":56.35},{"k":2,"x":24.4,"w":28.5,"y":56.25},{"k":2,"x":24.4,"w":27.2,"y":56.15},{"k":2,"x":24.4,"w":26.7,"y":56.08},{"k":3,"x":45.6,"w":46.1,"y":57.59},{"k":3,"x":45.6,"w":47.4,"y":57.45},{"k":3,"x":45.6,"w":50.2,"y":57.3},{"k":3,"x":45.6,"w":47.4,"y":57.2},{"k":3,"x":45.6,"w":47,"y":57.1},{"k":3,"x":45.6,"w":46.1,"y":56.9},{"k":3,"x":45.6,"w":46.1,"y":56.75},{"k":3,"x":45.6,"w":47.4,"y":56.6},{"k":3,"x":45.6,"w":47.9,"y":56.45},{"k":3,"x":45.6,"w":47.9,"y":56.36},{"k":4,"x":66.4,"w":69.2,"y":57.2},{"k":4,"x":66.4,"w":70.1,"y":57.05},{"k":4,"x":66.4,"w":72.9,"y":56.85},{"k":4,"x":66.4,"w":69.6,"y":56.78},{"k":5,"x":87,"w":88.8,"y":57.72},{"k":5,"x":87,"w":90.2,"y":57.6},{"k":5,"x":87,"w":91.1,"y":57.45},{"k":5,"x":87,"w":92.5,"y":57.35},{"k":5,"x":87,"w":89.3,"y":57.25},{"k":6,"x":108.3,"w":108.8,"y":56.77},{"k":6,"x":108.3,"w":109.2,"y":56.6},{"k":6,"x":108.3,"w":109.7,"y":56.3},{"k":6,"x":108.3,"w":110.6,"y":56.15},{"k":6,"x":108.3,"w":110.1,"y":56},{"k":6,"x":108.3,"w":112.4,"y":55.89},{"k":6,"x":108.3,"w":109.7,"y":55.75},{"k":6,"x":108.3,"w":109.7,"y":55.5},{"k":6,"x":108.3,"w":112,"y":55.42},{"k":6,"x":108.3,"w":111.1,"y":55.3},{"k":6,"x":108.3,"w":111.1,"y":55.27},{"k":7,"x":129.5,"w":131.3,"y":55.83},{"k":7,"x":129.5,"w":135,"y":55.68},{"k":7,"x":129.5,"w":134.1,"y":55.52},{"k":7,"x":129.5,"w":131.8,"y":55.42},{"k":8,"x":150.2,"w":151.1,"y":57.38},{"k":8,"x":150.2,"w":154.8,"y":57.28},{"k":8,"x":150.2,"w":151.6,"y":57.1},{"k":8,"x":150.2,"w":152,"y":56.9},{"k":8,"x":150.2,"w":151.6,"y":56.7},{"k":8,"x":150.2,"w":153,"y":56.5},{"k":9,"x":169.1,"w":172.3,"y":57.25},{"k":9,"x":169.1,"w":175.1,"y":57.1},{"k":9,"x":169.1,"w":171.9,"y":56.95},{"k":9,"x":169.1,"w":171.4,"y":56.79},{"k":11,"x":211,"w":213.3,"y":56.6},{"k":11,"x":211,"w":215.1,"y":56.4},{"k":11,"x":211,"w":212.8,"y":56.25},{"k":11,"x":211,"w":214.7,"y":56.1},{"k":11,"x":211,"w":212.8,"y":56},{"k":11,"x":211,"w":211.5,"y":55.85},{"k":12,"x":232.3,"w":235.1,"y":56.88},{"k":12,"x":232.3,"w":237.4,"y":56.65},{"k":12,"x":232.3,"w":234.6,"y":56.5},{"k":12,"x":232.3,"w":233.7,"y":56.44},{"k":13,"x":253,"w":256.2,"y":56.18},{"k":13,"x":253,"w":259.9,"y":55.95},{"k":13,"x":253,"w":256.7,"y":55.85},{"k":14,"x":274.2,"w":277.4,"y":56.75},{"k":14,"x":274.2,"w":283,"y":56.6},{"k":14,"x":274.2,"w":277,"y":56.45},{"k":14,"x":274.2,"w":276.5,"y":56.33},{"k":15,"x":295,"w":299.6,"y":56.18},{"k":15,"x":295,"w":296.4,"y":56},{"k":15,"x":295,"w":296.4,"y":55.7},{"k":15,"x":295,"w":296.8,"y":55.45},{"k":15,"x":295,"w":298.7,"y":55.1},{"k":15,"x":295,"w":297.8,"y":55},{"k":16,"x":316,"w":319.2,"y":56.88},{"k":16,"x":316,"w":322.9,"y":56.75},{"k":16,"x":316,"w":319.2,"y":56.62},{"k":16,"x":316,"w":322,"y":56.5},{"k":16,"x":316,"w":319.7,"y":56.48},{"k":17,"x":336.9,"w":340.6,"y":57.41},{"k":17,"x":336.9,"w":343.8,"y":57.2},{"k":17,"x":336.9,"w":340.1,"y":57.05},{"k":17,"x":336.9,"w":338.7,"y":57},{"k":18,"x":357.6,"w":358.5,"y":58.25},{"k":18,"x":357.6,"w":360.4,"y":58.1},{"k":18,"x":357.6,"w":363.1,"y":57.95},{"k":18,"x":357.6,"w":359.9,"y":57.8},{"k":18,"x":357.6,"w":362.2,"y":57.65},{"k":18,"x":357.6,"w":360.4,"y":57.63},{"k":19,"x":378.8,"w":381.1,"y":58.63},{"k":19,"x":378.8,"w":388.9,"y":58.48},{"k":19,"x":378.8,"w":381.6,"y":58.36},{"k":20,"x":399.5,"w":400.9,"y":58.65},{"k":20,"x":399.5,"w":405,"y":58.5},{"k":20,"x":399.5,"w":401.8,"y":58.3},{"k":20,"x":399.5,"w":401.8,"y":58.1},{"k":20,"x":399.5,"w":400.9,"y":58.02},{"k":21,"x":420.7,"w":423,"y":59.03},{"k":21,"x":420.7,"w":424.4,"y":58.9},{"k":21,"x":420.7,"w":423,"y":58.7},{"k":21,"x":420.7,"w":422.1,"y":58.55},{"k":21,"x":420.7,"w":421.6,"y":58.4}],
"red":[{"x":190.3,"w":191.1,"y":59.5},{"x":190.3,"w":191.5,"y":59.19},{"x":190.3,"w":191.2,"y":59.12},{"x":190.3,"w":192.6,"y":59.04},{"x":190.3,"w":194.1,"y":58.84},{"x":190.3,"w":195,"y":58.75},{"x":190.3,"w":199.5,"y":58.66},{"x":190.3,"w":204.1,"y":58.61},{"x":190.3,"w":207.2,"y":58.54},{"x":190.3,"w":205.7,"y":58.51},{"x":190.3,"w":200.3,"y":58.43},{"x":190.3,"w":196.5,"y":58.38},{"x":190.3,"w":195,"y":58.33},{"x":190.3,"w":197.2,"y":58.28},{"x":190.3,"w":194.6,"y":58.2},{"x":190.3,"w":195.7,"y":58.12},{"x":190.3,"w":194.3,"y":58.05},{"x":190.3,"w":198,"y":57.97},{"x":190.3,"w":196.5,"y":57.87},{"x":190.3,"w":194.1,"y":57.76},{"x":190.3,"w":194.5,"y":57.66},{"x":190.3,"w":193.4,"y":57.56},{"x":190.3,"w":192.6,"y":57.46},{"x":190.3,"w":198,"y":57.36},{"x":190.3,"w":196.6,"y":57.25},{"x":190.3,"w":198.5,"y":57.15},{"x":190.3,"w":197.8,"y":57.05},{"x":190.3,"w":201,"y":56.95},{"x":190.3,"w":204.1,"y":56.85},{"x":190.3,"w":203,"y":56.8},{"x":190.3,"w":205.7,"y":56.74},{"x":190.3,"w":207,"y":56.67},{"x":190.3,"w":213.4,"y":56.62},{"x":190.3,"w":206,"y":56.58},{"x":190.3,"w":204.9,"y":56.44},{"x":190.3,"w":203.2,"y":56.34},{"x":190.3,"w":204.1,"y":56.23},{"x":190.3,"w":208,"y":56.13},{"x":190.3,"w":203.4,"y":56.03},{"x":190.3,"w":202.6,"y":55.93},{"x":190.3,"w":200,"y":55.85},{"x":190.3,"w":198,"y":55.77},{"x":190.3,"w":194,"y":55.7},{"x":190.3,"w":192.6,"y":55.62},{"x":190.3,"w":192,"y":55.5},{"x":190.3,"w":193.4,"y":55.37},{"x":190.3,"w":192.4,"y":55.26},{"x":190.3,"w":194.1,"y":55.16},{"x":190.3,"w":193,"y":55.02},{"x":190.3,"w":193.4,"y":54.91},{"x":190.3,"w":192.6,"y":54.7},{"x":190.3,"w":191.1,"y":54.52}],
"pink":[{"x":190.3,"w":191.5,"y":57.8},{"x":190.3,"w":191.9,"y":57.3},{"x":190.3,"w":191.9,"y":56.6},{"x":190.3,"w":192.4,"y":56},{"x":190.3,"w":194.2,"y":55.7},{"x":190.3,"w":191.5,"y":55.6}],
"pocs":[{"x":9,"w":24.4,"y":56.38},{"x":30.9,"w":45.6,"y":56.35},{"x":50.2,"w":66.4,"y":57.3},{"x":72.9,"w":87,"y":56.85},{"x":92.5,"w":108.3,"y":57.35},{"x":112.4,"w":129.5,"y":55.89},{"x":135,"w":150.2,"y":55.68},{"x":154.8,"w":169.1,"y":57.28},{"x":175.1,"w":190.3,"y":57.1},{"x":215,"w":232.3,"y":56.4},{"x":237.4,"w":253,"y":56.65},{"x":259.9,"w":274.2,"y":55.95},{"x":283,"w":295,"y":56.6},{"x":299.6,"w":316,"y":56.18},{"x":322.9,"w":336.9,"y":56.75},{"x":343.8,"w":357.6,"y":57.2},{"x":363.1,"w":378.8,"y":57.95},{"x":388.9,"w":399.5,"y":58.48},{"x":405,"w":420.7,"y":58.5}],
"lines":[{"k":"u","x":14.3,"y":58.1},{"k":"u","x":322,"y":56.95},{"k":"l","x":0,"y":55.54},{"k":"l","x":316,"y":54.39}],
"boxes":[{"x":217,"w":228.6,"y":57.35,"z":54.76},{"x":313.8,"w":335.5,"y":59.52,"z":56.95}],
"mainTags":[{"x":461.5,"w":469.5,"y":59.55,"z":59.41,"t":"59,51","m":465.5,"n":59.48}],
"deltaTags":[{"x":461.5,"w":468,"y":700,"z":-700,"t":"239","m":464.7,"n":0}],
"volTags":[{"x":461.5,"w":468,"y":5.5,"z":-3.5,"t":"4055","m":464.7,"n":1}]
},
"vconcat":[
{"width":1030,"height":12,"view":{"fill":"#232323","stroke":null},"data":{"values":[{"x":8,"t":"◉"},{"x":29,"t":"CLK9"},{"x":41,"t":"⌕"},{"x":63,"t":"H1 chart ▾"},{"x":90,"t":"▭ ▾"},{"x":108,"t":"╱ ▾"},{"x":124,"t":"⩗"},{"x":140,"t":"⊾ ▾"},{"x":158,"t":"✛ ▾"},{"x":173,"t":"▢"},{"x":187,"t":"◧"},{"x":896,"t":"⚒"},{"x":914,"t":"✕ ▾"},{"x":937,"t":"⤢ ▾"},{"x":957,"t":"◙"},{"x":974,"t":"⊷"},{"x":990,"t":"—"},{"x":1006,"t":"❐"},{"x":1021,"t":"✕"}]},"mark":{"type":"text","font":"DejaVu Sans","fontSize":8,"color":"#a8a8a8"},"encoding":{"x":{"field":"x","type":"quantitative","scale":{"domain":[0,1030]},"axis":null},"text":{"field":"t"}}},
{"width":998,"height":393,"encoding":{"x":{"field":"x","type":"quantitative","scale":{"domain":[-0.5,459.5]},"axis":null},"y":{"field":"y","type":"quantitative","title":null,"scale":{"domain":[54.115,60.133]},"axis":{"title":null,"orient":"right","values":[54.4,54.8,55.2,55.6,56,56.4,56.8,57.2,57.6,58,58.4,58.8,59.2,59.6,60],"labelExpr":"replace(format(datum.value,'.2f'),'.',',')"}}},"layer":[
{"data":{"name":"pocs"},"mark":{"type":"rule","color":"#5e0a0a","strokeWidth":1},"encoding":{"x2":{"field":"w"}}},
{"data":{"name":"red"},"mark":{"type":"area","orient":"horizontal","color":"#c00000"},"encoding":{"x2":{"field":"w"}}},
{"data":{"name":"pink"},"mark":{"type":"area","orient":"horizontal","color":"#c8325a"},"encoding":{"x2":{"field":"w"}}},
{"data":{"name":"grey"},"mark":{"type":"area","orient":"horizontal","color":"#666","interpolate":"monotone"},"encoding":{"x2":{"field":"w"},"detail":{"field":"k"}}},
{"data":{"name":"blue"},"mark":{"type":"area","orient":"horizontal","color":"#0a66c8","interpolate":"monotone"},"encoding":{"x2":{"field":"w"},"detail":{"field":"k"}}},
{"data":{"values":[{"x":213,"w":459.5,"y":56.62}]},"mark":{"type":"rule","color":"#a00000","strokeWidth":1},"encoding":{"x2":{"field":"w"}}},
{"data":{"values":[{"x":424.4,"w":443,"y":58.97}]},"mark":{"type":"rule","color":"#6e0a0a","strokeWidth":1},"encoding":{"x2":{"field":"w"}}},
{"data":{"name":"candles"},"mark":{"type":"rule","color":"#6a6a6a","strokeWidth":1},"encoding":{"y":{"field":"l","type":"quantitative","title":null,"scale":{"domain":[54.115,60.133]}},"y2":{"field":"h"}}},
{"data":{"name":"candles"},"mark":{"type":"rule","strokeWidth":1.8},"encoding":{"y":{"field":"o","type":"quantitative","title":null,"scale":{"domain":[54.115,60.133]}},"y2":{"field":"c"},"color":{"condition":{"test":"datum.c>=datum.o","value":"#00b400"},"value":"#c80000"}}},
{"data":{"name":"candles"},"mark":{"type":"point","filled":true,"shape":"square","size":6,"opacity":1,"color":"#ffe600"},"encoding":{"y":{"field":"c","type":"quantitative","title":null,"scale":{"domain":[54.115,60.133]}}}},
{"data":{"name":"lines"},"mark":{"type":"line","color":"#e6e600","strokeWidth":1.4},"encoding":{"detail":{"field":"k"}}},
{"data":{"values":[{"k":"g","x":212.6,"y":56.99},{"k":"g","x":322,"y":56.99}]},"mark":{"type":"line","color":"#0c8c0c","strokeWidth":1.4,"strokeDash":[3,2]},"encoding":{"detail":{"field":"k"}}},
{"data":{"name":"boxes"},"mark":{"type":"rect","fillOpacity":0,"stroke":"#b4b400","strokeWidth":1,"strokeDash":[1,1]},"encoding":{"x2":{"field":"w"},"y2":{"field":"z"}}},
{"data":{"values":[{"x":452.5,"w":458,"y":60.09,"z":59.92}]},"mark":{"type":"rect","fillOpacity":0,"stroke":"#e0e0e0","strokeWidth":1},"encoding":{"x2":{"field":"w"},"y2":{"field":"z"}}},
{"data":{"values":[{"x":455.2,"y":60,"t":"▶"}]},"mark":{"type":"text","font":"DejaVu Sans","fontSize":7,"color":"#e0e0e0"},"encoding":{"text":{"field":"t"}}},
{"data":{"name":"mainTags"},"mark":{"type":"rect","color":"#8c8c8c"},"encoding":{"x2":{"field":"w"},"y2":{"field":"z"}}},
{"data":{"name":"mainTags"},"mark":{"type":"text","fontSize":6,"color":"#e4e4e4"},"encoding":{"x":{"field":"m","type":"quantitative","scale":{"domain":[-0.5,459.5]},"axis":null},"y":{"field":"n","type":"quantitative","title":null,"scale":{"domain":[54.115,60.133]}},"text":{"field":"t"}}}
]},
{"width":998,"height":65,"encoding":{"x":{"field":"i","type":"quantitative","scale":{"domain":[-0.5,459.5],"padding":0},"axis":null}},"layer":[
{"data":{"name":"bars"},"mark":{"type":"bar","orient":"vertical","size":1.3,"color":"#8c8c8c"},"encoding":{"y":{"field":"d","type":"quantitative","stack":null,"title":null,"scale":{"domain":[-7840,5782]},"axis":{"title":null,"orient":"right","values":[-7211,5363],"format":"d","labelFontSize":7}}}},
{"data":{"values":[{"i":1,"y":4400,"t":"Delta(Bars, True)"},{"i":457,"y":4600,"t":"⊠"}]},"mark":{"type":"text","align":"left","fontSize":8,"font":"DejaVu Sans","color":"#a8a8a8"},"encoding":{"y":{"field":"y","type":"quantitative","title":null,"scale":{"domain":[-7840,5782]}},"text":{"field":"t"}}},
{"data":{"name":"deltaTags"},"mark":{"type":"rect","color":"#22e61e"},"encoding":{"x":{"field":"x","type":"quantitative","scale":{"domain":[-0.5,459.5],"padding":0},"axis":null},"x2":{"field":"w"},"y":{"field":"y","type":"quantitative","title":null,"scale":{"domain":[-7840,5782]}},"y2":{"field":"z"}}},
{"data":{"name":"deltaTags"},"mark":{"type":"text","fontSize":7,"color":"#0a5a0a"},"encoding":{"x":{"field":"m","type":"quantitative","scale":{"domain":[-0.5,459.5],"padding":0},"axis":null},"y":{"field":"n","type":"quantitative","title":null,"scale":{"domain":[-7840,5782]}},"text":{"field":"t"}}}
]},
{"width":998,"height":68,"encoding":{"x":{"field":"i","type":"quantitative","title":null,"scale":{"domain":[-0.5,459.5],"padding":0},"axis":{"title":null,"tickSize":2,"labelPadding":0,"values":[18,38,58,78,98,118,138,158,178,198,218,238,258,278,298,318,338,358,378,398,418],"labelExpr":"['12:00','15:00','14:00','13:00','12:00','11:00','10:00','11:00','10:00','09:00','08:00','07:00','06:00','05:00','04:00','02:00','01:00','00:00','23:00','21:00','20:00'][(datum.value-18)/20]"}}},"layer":[
{"data":{"name":"bars"},"mark":{"type":"bar","orient":"vertical","size":1.4},"encoding":{"y":{"field":"v","type":"quantitative","stack":null,"title":null,"scale":{"domain":[0,124.4]},"axis":{"title":null,"orient":"right","values":[120.735],"labelFontSize":7,"labelBaseline":"top","labelExpr":"format(datum.value*1000,'d')"}},"color":{"condition":{"test":"datum.v>=25","value":"#c8c800"},"value":"#7a7a7a"}}},
{"data":{"values":[{"i":1,"y":112.5,"t":"Volume"},{"i":457,"y":106,"t":"⊠"}]},"mark":{"type":"text","align":"left","fontSize":8,"font":"DejaVu Sans","color":"#a8a8a8"},"encoding":{"y":{"field":"y","type":"quantitative","title":null,"scale":{"domain":[0,124.4]}},"text":{"field":"t"}}},
{"data":{"name":"volTags"},"mark":{"type":"rect","color":"#c8c8c0"},"encoding":{"x":{"field":"x","type":"quantitative","title":null,"scale":{"domain":[-0.5,459.5],"padding":0}},"x2":{"field":"w"},"y":{"field":"y","type":"quantitative","title":null,"scale":{"domain":[0,124.4]}},"y2":{"field":"z"}}},
{"data":{"name":"volTags"},"mark":{"type":"text","fontSize":7,"color":"#777"},"encoding":{"x":{"field":"m","type":"quantitative","title":null,"scale":{"domain":[-0.5,459.5],"padding":0}},"y":{"field":"n","type":"quantitative","title":null,"scale":{"domain":[0,124.4]}},"text":{"field":"t"}}}
]},
{"width":1030,"height":10,"view":{"stroke":null,"fill":null},"data":{"values":[{"t":""}]},"mark":{"type":"text"},"encoding":{"text":{"field":"t"}}},
{"width":1030,"height":9,"view":{"fill":"#2b2b2b","stroke":null},"data":{"values":[{"x":9,"t":"◂"},{"x":1011,"t":"■"},{"x":1021,"t":"▸"}]},"mark":{"type":"text","font":"DejaVu Sans","fontSize":7,"color":"#8a8a8a"},"encoding":{"x":{"field":"x","type":"quantitative","scale":{"domain":[0,1030]},"axis":null},"text":{"field":"t"}}}
]}
